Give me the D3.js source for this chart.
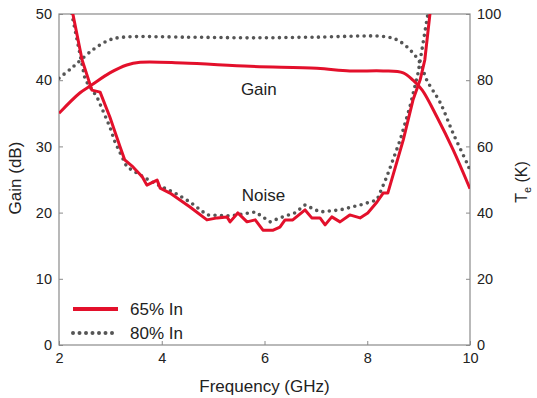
<!DOCTYPE html>
<html lang="en">
<head>
<meta charset="UTF-8">
<title>Gain and noise</title>
<script src="https://cdn.jsdelivr.net/npm/d3@7"></script>
<style>
    body { margin: 0; background: #fff; }
    text { font-family: "Liberation Sans", Arial, sans-serif; fill: #222; }
    .frame { fill: none; stroke: #8a8a8a; stroke-width: 1.2px; }
    .axis path { display: none; }
    .axis line { stroke: #8a8a8a; }
    .axis text { font-size: 14.5px; fill: #222; }
    .red { fill: none; stroke: #e3102b; stroke-width: 3px; stroke-linejoin: round; }
    .dots { fill: none; stroke: #555; stroke-width: 3.6px; stroke-linecap: round; stroke-dasharray: 0 6.5; }
</style>
</head>
<body>
<div id="chart"></div>
<script>
// frequency in GHz, gain in dB
const gain65 = [[2.0,35.0],[2.41,38.1],[2.64,39.3],[2.99,41.1],[3.32,42.3],[3.58,42.7],[4.41,42.6],[5.72,42.1],[7.02,41.8],[7.66,41.4],[8.31,41.4],[8.70,41.1],[8.89,40.0],[9.07,38.5],[9.36,34.4],[9.67,29.5],[10.0,23.6]];
const gain80 = [[2.0,40.3],[2.27,42.0],[2.66,44.6],[2.99,46.1],[3.25,46.5],[4.5,46.5],[5.72,46.4],[7.0,46.5],[8.31,46.6],[8.58,46.1],[8.83,44.6],[9.03,42.6],[9.16,40.0],[9.42,36.6],[9.67,32.0],[9.94,27.5],[10.0,26.4]];
// frequency in GHz, noise temperature in K
const noise65 = [[2.22,110],[2.27,100],[2.45,86.1],[2.64,77.0],[2.80,76.4],[2.99,68.9],[3.19,59.8],[3.28,55.9],[3.44,53.8],[3.62,50.8],[3.71,48.3],[3.91,49.8],[3.97,47.4],[4.16,45.9],[4.55,41.7],[4.88,37.8],[5.08,38.4],[5.27,38.7],[5.33,37.2],[5.48,39.9],[5.66,37.2],[5.82,37.8],[5.97,34.7],[6.17,34.7],[6.30,35.6],[6.40,37.8],[6.55,37.8],[6.79,40.8],[6.92,38.4],[7.08,38.4],[7.18,36.3],[7.31,38.7],[7.47,37.2],[7.66,39.3],[7.86,38.4],[8.01,39.9],[8.19,43.2],[8.31,45.9],[8.40,45.9],[8.70,61.9],[8.89,74.0],[9.03,80.1],[9.12,86.1],[9.22,100],[9.27,110]];
const noise80 = [[2.2,110],[2.25,100],[2.51,80.1],[2.74,74.9],[2.99,65.9],[3.09,61.3],[3.32,53.8],[3.67,50.5],[3.97,48.0],[4.26,45.9],[4.55,43.2],[4.88,39.3],[5.33,39.0],[5.82,40.2],[6.11,37.2],[6.30,38.4],[6.59,39.9],[6.79,42.3],[7.08,40.2],[7.47,40.8],[7.86,42.3],[8.19,43.8],[8.38,50.8],[8.64,61.9],[8.83,71.9],[8.99,82.2],[9.18,100],[9.23,110]];
const xTicks = [2, 4, 6, 8, 10];
const gainTicks = [0, 10, 20, 30, 40, 50];
const noiseTicks = [0, 20, 40, 60, 80, 100];
const legendNames = ["65% In", "80% In"];

const W = 537, H = 398;
const margin = {top: 14, right: 67, bottom: 53, left: 59};
const width = W - margin.left - margin.right;
const height = H - margin.top - margin.bottom;

const x = d3.scaleLinear().domain([2, 10]).range([0, width]);
const yG = d3.scaleLinear().domain([0, 50]).range([height, 0]);
const yN = d3.scaleLinear().domain([0, 100]).range([height, 0]);

const svg = d3.select("#chart").append("svg")
    .attr("width", W).attr("height", H);
const g = svg.append("g")
    .attr("transform", "translate(" + margin.left + "," + margin.top + ")");

g.append("defs").append("clipPath").attr("id", "clip")
    .append("rect").attr("width", width).attr("height", height);

// axes
g.append("g").attr("class", "axis").attr("transform", "translate(0," + height + ")")
    .call(d3.axisBottom(x).tickValues(xTicks).tickSizeInner(-4).tickSizeOuter(0).tickPadding(8));
g.append("g").attr("class", "axis")
    .call(d3.axisLeft(yG).tickValues(gainTicks).tickSizeInner(-4).tickSizeOuter(0).tickPadding(7));
g.append("g").attr("class", "axis").attr("transform", "translate(" + width + ",0)")
    .call(d3.axisRight(yN).tickValues(noiseTicks).tickSizeInner(-4).tickSizeOuter(0).tickPadding(7));

g.append("rect").attr("class", "frame").attr("width", width).attr("height", height);

const lineG = d3.line().x(d => x(d[0])).y(d => yG(d[1])).curve(d3.curveCatmullRom);
const lineN = d3.line().x(d => x(d[0])).y(d => yN(d[1]));

const plot = g.append("g").attr("clip-path", "url(#clip)");
plot.append("path").datum(gain80).attr("class", "dots").attr("d", lineG);
plot.append("path").datum(noise80).attr("class", "dots").attr("d", lineN);
plot.append("path").datum(gain65).attr("class", "red").attr("d", lineG);
plot.append("path").datum(noise65).attr("class", "red").attr("d", lineN);

// annotations
g.append("text").attr("x", x(5.89)).attr("y", yG(37.8)).attr("text-anchor", "middle")
    .style("font-size", "17px").text("Gain");
g.append("text").attr("x", x(5.98)).attr("y", yN(43.5)).attr("text-anchor", "middle")
    .style("font-size", "17px").text("Noise");

// axis titles
svg.append("text").attr("x", margin.left + width / 2).attr("y", 392)
    .attr("text-anchor", "middle").style("font-size", "17px").text("Frequency (GHz)");
svg.append("text").attr("transform", "translate(21," + 178 + ") rotate(-90)")
    .attr("text-anchor", "middle").style("font-size", "17px").text("Gain (dB)");
const tl = svg.append("text").attr("transform", "translate(527,182) rotate(-90)")
    .attr("text-anchor", "middle").style("font-size", "16px");
tl.append("tspan").text("T");
tl.append("tspan").attr("dy", 4).style("font-size", "11px").text("e");
tl.append("tspan").attr("dy", -4).text(" (K)");

// legend
const leg = g.append("g").attr("transform", "translate(14," + (height - 36) + ")");
legendNames.forEach((name, i) => {
    leg.append("line").attr("class", i === 0 ? "red" : "dots")
        .attr("x1", 0).attr("x2", 45).attr("y1", i * 24).attr("y2", i * 24)
        .style("stroke-width", "4px");
    leg.append("text").attr("x", 57).attr("y", i * 24 + 6)
        .style("font-size", "17px").text(name);
});
</script>
</body>
</html>
